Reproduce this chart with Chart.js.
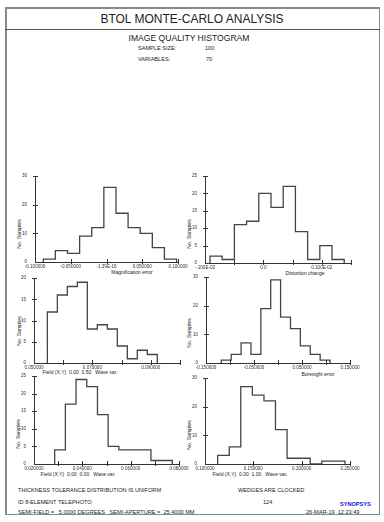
<!DOCTYPE html>
<html><head><meta charset="utf-8">
<script src="https://cdn.jsdelivr.net/npm/chart.js@4.4.1/dist/chart.umd.min.js"></script>
<style>
html,body{margin:0;padding:0;background:#fff;}
body{width:384px;height:522px;position:relative;overflow:hidden;font-family:"Liberation Sans",Arial,sans-serif;color:#222;}
#frame{position:absolute;left:5px;top:7px;width:375px;height:508px;border:1px solid #8a8a8a;border-left-width:2px;border-top-width:2px;box-sizing:border-box;}
#divider{position:absolute;left:5px;top:29px;width:375px;height:1px;background:#555;}
.t{position:absolute;white-space:nowrap;line-height:1;}
.c{transform:translate(-50%,-50%);}
.rot{transform:translate(-50%,-50%) rotate(-90deg);}
canvas{position:absolute;}
</style></head>
<body>
<div id="frame"></div><div id="divider"></div>
<div class="t c" style="left:192px;top:19px;font-size:12px;">BTOL MONTE-CARLO ANALYSIS</div>
<div class="t c" style="left:189px;top:38px;font-size:8.6px;">IMAGE QUALITY HISTOGRAM</div>
<div class="t" style="left:138px;top:46px;font-size:5.6px;">SAMPLE SIZE:</div>
<div class="t" style="left:205px;top:46px;font-size:5.6px;">100</div>
<div class="t" style="left:138px;top:57px;font-size:5.6px;">VARIABLES:</div>
<div class="t" style="left:206px;top:57px;font-size:5.6px;">70</div>

<div class="t" style="left:18px;top:488px;font-size:5.6px;">THICKNESS TOLERANCE DISTRIBUTION IS UNIFORM</div>
<div class="t" style="left:238px;top:488px;font-size:5.6px;">WEDGES ARE CLOCKED</div>
<div class="t" style="left:18px;top:499.5px;font-size:5.6px;">ID 8-ELEMENT TELEPHOTO</div>
<div class="t" style="left:263px;top:499.5px;font-size:5.6px;">124</div>
<div class="t" style="left:340px;top:502px;font-size:5.6px;font-weight:bold;color:#1010e0;">SYNOPSYS</div>
<div class="t" style="left:18px;top:509.5px;font-size:5.6px;">SEMI-FIELD =&nbsp;&nbsp; 5.0000 DEGREES&nbsp;&nbsp; SEMI-APERTURE =&nbsp; 25.4000 MM</div>
<div class="t" style="left:306px;top:509.5px;font-size:5.6px;">26-MAR-19&nbsp; 12:23:49</div>

<div id="titles"></div>
<script>
// ---- DATA ----
const magEdges = [-0.0884,-0.0715,-0.0545,-0.0376,-0.0206,-0.0037,0.0133,0.0302,0.0471,0.0641,0.0810,0.0980];
const magCounts = [1,4,3,9,12,26,17,12,10,5,1];
const magXTicks = [-0.1,-0.05,0,0.05,0.1];
const magXLabels = ["-0.100000","-0.050000","-1.39E-16","0.050000","0.100000"];
const magYTicks = [0,10,20,30];

const distEdges = [-0.000915,-0.000706,-0.000497,-0.000288,-0.000079,0.000130,0.000339,0.000548,0.000757,0.000966,0.001175,0.001384];
const distCounts = [2,1,11,12,20,16,22,9,1,5,1];
const distXTicks = [-0.001,-0.0005,0,0.0005,0.001,0.0015];
const distXLabels = ["-.100E-02","","0.0","","0.100E-02",""];
const distYTicks = [0,5,10,15,20,25];

const f50Edges = [0.05458,0.05800,0.06142,0.06485,0.06827,0.07169,0.07511,0.07853,0.08196,0.08538,0.08880,0.09222];
const f50Counts = [12,16,18,19,8,9,8,4,1,3,2];
const f50XTicks = [0.05,0.06,0.07,0.08,0.09,0.10];
const f50XLabels = ["0.050000","","0.070000","","0.090000",""];
const f50YTicks = [0,5,10,15,20];

const boreEdges = [-0.1181,-0.0975,-0.0769,-0.0563,-0.0357,-0.0152,0.0054,0.0260,0.0466,0.0672,0.0878,0.1084];
const boreCounts = [1,3,7,3,19,29,16,12,6,3,1];
const boreXTicks = [-0.15,-0.1,-0.05,0,0.05,0.1,0.15];
const boreXLabels = ["-0.150000","","-0.050000","","0.050000","","0.150000"];
const boreYTicks = [0,10,20,30];

const f00Edges = [0.02855,0.03298,0.03740,0.04183,0.04626,0.05068,0.05511,0.05953,0.06396,0.06839,0.07281,0.07724];
const f00Counts = [4,17,24,22,14,5,4,4,4,1,1];
const f00XTicks = [0.02,0.03,0.04,0.05,0.06,0.07,0.08];
const f00XLabels = ["0.020000","","0.040000","","0.060000","","0.080000"];
const f00YTicks = [0,5,10,15,20,25];

const f100Edges = [0.1131,0.1251,0.1370,0.1490,0.1610,0.1729,0.1849,0.1969,0.2088,0.2208,0.2328,0.2448];
const f100Counts = [3,6,27,24,22,12,2,2,0,1,1];
const f100XTicks = [0.10,0.15,0.20,0.25];
const f100XLabels = ["0.100000","0.150000","0.200000","0.250000"];
const f100YTicks = [0,10,20,30];

// ---- LAYOUT ----
const charts = [
  {edges:magEdges,counts:magCounts,xt:magXTicks,xl:magXLabels,yt:magYTicks,
   box:{l:35,t:176,r:178,b:262}, xTitle:"Magnification error", xT:[132,272], yT:[20,234]},
  {edges:distEdges,counts:distCounts,xt:distXTicks,xl:distXLabels,yt:distYTicks,
   box:{l:205,t:176,r:351,b:263}, xTitle:"Distortion change", xT:[305,273], yT:[190,234]},
  {edges:f50Edges,counts:f50Counts,xt:f50XTicks,xl:f50XLabels,yt:f50YTicks,
   box:{l:34,t:278,r:180,b:363}, xTitle:"Field (X,Y)  0.00  0.50   Wave var.", xT:[80,372], yT:[20,331]},
  {edges:boreEdges,counts:boreCounts,xt:boreXTicks,xl:boreXLabels,yt:boreYTicks,
   box:{l:206,t:277,r:350,b:363}, xTitle:"Boresight error", xT:[318,374], yT:[190,333]},
  {edges:f00Edges,counts:f00Counts,xt:f00XTicks,xl:f00XLabels,yt:f00YTicks,
   box:{l:34,t:376,r:179,b:464}, xTitle:"Field (X,Y)  0.00  0.00   Wave var.", xT:[78,474], yT:[19,434]},
  {edges:f100Edges,counts:f100Counts,xt:f100XTicks,xl:f100XLabels,yt:f100YTicks,
   box:{l:205,t:378,r:350,b:464}, xTitle:"Field (X,Y)  0.00  1.00   Wave var.", xT:[250,474], yT:[190,435]}
];

const YW=30, XH=14, PT=6, PR=16;
const crossTicks = {
  id:'crossTicks',
  afterDraw(chart){
    const ctx=chart.ctx, xs=chart.scales.x, ys=chart.scales.y, ca=chart.chartArea;
    ctx.save(); ctx.strokeStyle='#333'; ctx.lineWidth=1;
    ys.ticks.forEach(t=>{ if(t.value===ys.min) return;
      const y=Math.round(ys.getPixelForValue(t.value))+0.5;
      ctx.beginPath(); ctx.moveTo(ca.left-2,y); ctx.lineTo(ca.left+3,y); ctx.stroke(); });
    xs.ticks.forEach(t=>{ if(t.value===xs.min) return;
      const x=Math.round(xs.getPixelForValue(t.value))+0.5;
      ctx.beginPath(); ctx.moveTo(x,ca.bottom-3); ctx.lineTo(x,ca.bottom+2); ctx.stroke(); });
    ctx.restore();
  }
};

const titles=document.getElementById('titles');
charts.forEach(c=>{
  const b=c.box;
  const cv=document.createElement('canvas');
  const w=(b.r-b.l)+YW+PR, h=(b.b-b.t)+PT+XH;
  cv.width=w; cv.height=h;
  cv.style.left=(b.l-YW)+'px'; cv.style.top=(b.t-PT)+'px';
  cv.style.width=w+'px'; cv.style.height=h+'px';
  document.body.appendChild(cv);
  // outline of the histogram: each bin contributes its two top corners
  const pts=[{x:c.edges[0],y:0}];
  c.counts.forEach((n,i)=>{ pts.push({x:c.edges[i],y:n}); pts.push({x:c.edges[i+1],y:n}); });
  pts.push({x:c.edges[c.edges.length-1],y:0});
  new Chart(cv,{
    type:'line',
    data:{datasets:[{data:pts,borderColor:'#454545',borderWidth:1.3,pointRadius:0,fill:false,tension:0}]},
    options:{
      responsive:false,animation:false,devicePixelRatio:1,
      layout:{padding:{left:0,top:PT,right:PR,bottom:0}},
      plugins:{legend:{display:false},tooltip:{enabled:false}},
      scales:{
        x:{type:'linear',min:c.xt[0],max:c.xt[c.xt.length-1],
           afterBuildTicks(s){s.ticks=c.xt.map(v=>({value:v}));},
           afterFit(s){s.height=XH;s.paddingLeft=0;s.paddingRight=0;},
           grid:{display:false,drawTicks:false},border:{display:true,color:'#333',width:1},
           ticks:{autoSkip:false,maxRotation:0,padding:2,color:'#333',font:{size:4.6,family:'Liberation Sans'},
             callback:(v,i)=>c.xl[i]}},
        y:{type:'linear',min:c.yt[0],max:c.yt[c.yt.length-1],
           afterBuildTicks(s){s.ticks=c.yt.map(v=>({value:v}));},
           afterFit(s){s.width=YW;s.paddingTop=0;s.paddingBottom=0;},
           grid:{display:false,drawTicks:false},border:{display:true,color:'#333',width:1},
           ticks:{autoSkip:false,padding:8,color:'#333',font:{size:4.6,family:'Liberation Sans'},
             callback:(v,i)=>String(c.yt[i])}}
      }
    },
    plugins:[crossTicks]
  });
  const xt=document.createElement('div'); xt.className='t c';
  xt.style.cssText+=`left:${c.xT[0]}px;top:${c.xT[1]}px;font-size:5px;white-space:pre;`;
  xt.textContent=c.xTitle; titles.appendChild(xt);
  const yt=document.createElement('div'); yt.className='t rot';
  yt.style.cssText+=`left:${c.yT[0]}px;top:${c.yT[1]}px;font-size:5.2px;`;
  yt.textContent='No. Samples'; titles.appendChild(yt);
});
</script>
</body></html>
